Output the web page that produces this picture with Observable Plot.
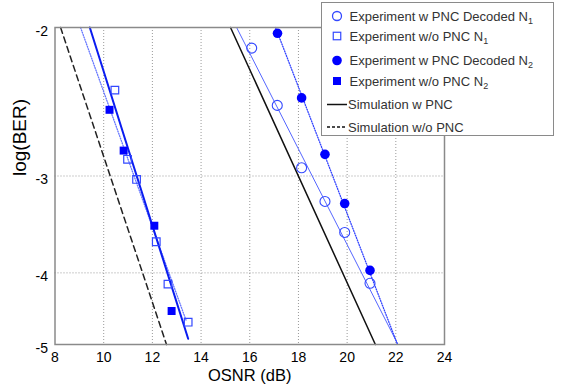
<!DOCTYPE html>
<html>
<head>
<meta charset="utf-8">
<script src="https://cdn.jsdelivr.net/npm/d3@7"></script>
<script src="https://cdn.jsdelivr.net/npm/@observablehq/plot@0.6"></script>
<style>
  body { margin: 0; background: #fff; font-family: "Liberation Sans", Arial, sans-serif; }
  #wrap { position: relative; width: 571px; height: 389px; }
  #legend { position: absolute; left: 321px; top: 2px; width: 233px; height: 134px; background: #fff; border: 1.5px solid #8a8a8a; box-sizing: border-box; }
</style>
</head>
<body>
<div id="wrap"><div id="chart"></div><svg id="legend" width="233" height="134"></svg></div>
<script>
// ---- data (OSNR in dB, log10(BER)) ----
const osnrWoPncN1 = [10.46, 10.98, 11.35, 12.16, 12.64, 13.47];
const berWoPncN1  = [-2.36, -2.86, -3.03, -3.64, -4.14, -4.66];
const osnrWoPncN2 = [10.24, 10.82, 12.08, 12.79];
const berWoPncN2  = [-2.49, -2.79, -3.47, -4.50];
const osnrPncN1 = [16.08, 17.13, 18.13, 19.09, 19.90, 20.94];
const berPncN1  = [-2.11, -2.46, -2.93, -3.23, -3.54, -4.13];
const osnrPncN2 = [17.14, 18.13, 19.09, 19.90, 20.94];
const berPncN2  = [-2.03, -2.41, -2.82, -3.25, -3.97];
// simulation curves and fitted lines (end points)
const simPncX = [15.21, 21.16], simPncY = [-2, -5];
const simWoPncX = [8.23, 12.58], simWoPncY = [-2, -5];
const fitWoN1X = [9.43, 13.47], fitWoN1Y = [-2, -4.91];
const fitWoN2X = [9.05, 13.38], fitWoN2Y = [-2, -4.63];
const fitPncN1X = [15.46, 22.09], fitPncN1Y = [-2, -5];
const fitPncN2X = [17.06, 22.07], fitPncN2Y = [-2, -5];
const xTicks = [8, 10, 12, 14, 16, 18, 20, 22, 24];
const yTicks = [-2, -3, -4, -5];
const yTickLabels = ["-2", "-3", "-4", "-5"];

// ---- BER axis: linear in 20log10(Q) ----
function normInvLow(p) {
  const c=[-7.784894002430293e-03,-3.223964580411365e-01,-2.400758277161838e+00,-2.549671750376168e+00,4.374664141464968e+00,2.938163982698783e+00];
  const d=[7.784695709041462e-03,3.224671290700398e-01,2.445134137142996e+00,3.754408661907416e+00];
  const q=Math.sqrt(-2*Math.log(p));
  return (((((c[0]*q+c[1])*q+c[2])*q+c[3])*q+c[4])*q+c[5])/((((d[0]*q+d[1])*q+d[2])*q+d[3])*q+1);
}
const qdb = lb => 20*Math.log10(-normInvLow(Math.pow(10, lb)));
const yTickPos = yTicks.map(qdb);

const pts = (xs, ys) => xs.map((x, i) => ({x, y: qdb(ys[i])}));
const blue = "#0000ff";

const chart = Plot.plot({
  width: 571, height: 389,
  marginLeft: 54.5, marginRight: 127, marginTop: 27, marginBottom: 45,
  style: {fontFamily: "'Liberation Sans', Arial, sans-serif", fontSize: "14px", color: "#000", background: "#fff"},
  x: {domain: [8, 24]},
  y: {domain: [qdb(-5), qdb(-2)]},
  marks: [
    Plot.ruleX(xTicks.slice(1, -1), {stroke: "#9a9a9a", strokeDasharray: "1,2", strokeWidth: 1}),
    Plot.ruleY(yTickPos.slice(1, -1), {stroke: "#9a9a9a", strokeDasharray: "1,2", strokeWidth: 1}),
    Plot.axisX({ticks: xTicks, tickSize: 0, tickPadding: 8, tickFormat: d => String(d), label: null, fontSize: 14}),
    Plot.axisY({ticks: yTickPos, tickSize: 0, tickPadding: 7, dy: 4, tickFormat: d => yTickLabels[yTickPos.indexOf(d)], label: null, fontSize: 14}),
    Plot.text(["OSNR (dB)"], {frameAnchor: "bottom", dy: 36, fontSize: 16.5, text: d => d}),
    Plot.text(["log(BER)"], {frameAnchor: "left", dx: -35, dy: -10, rotate: -90, fontSize: 19, text: d => d}),
    Plot.line(pts(simWoPncX, simWoPncY), {x: "x", y: "y", stroke: "#222", strokeWidth: 1.5, strokeDasharray: "6,4"}),
    Plot.line(pts(simPncX, simPncY), {x: "x", y: "y", stroke: "#111", strokeWidth: 1.5}),
    Plot.line(pts(fitWoN2X, fitWoN2Y), {x: "x", y: "y", stroke: "#6677ff", strokeWidth: 1.3, strokeDasharray: "1,1.5"}),
    Plot.line(pts(fitWoN1X, fitWoN1Y), {x: "x", y: "y", stroke: "#0a1cf0", strokeWidth: 2}),
    Plot.line(pts(fitPncN1X, fitPncN1Y), {x: "x", y: "y", stroke: "#5566ff", strokeWidth: 1}),
    Plot.line(pts(fitPncN2X, fitPncN2Y), {x: "x", y: "y", stroke: "#3344ff", strokeWidth: 1.3, strokeDasharray: "1,1.5"}),
    Plot.dot(pts(osnrWoPncN1, berWoPncN1), {x: "x", y: "y", symbol: "square", r: 4.3, stroke: "#3348ff", fill: "none", strokeWidth: 1.2}),
    Plot.dot(pts(osnrWoPncN2, berWoPncN2), {x: "x", y: "y", symbol: "square", r: 4.5, fill: blue, stroke: "none"}),
    Plot.dot(pts(osnrPncN1, berPncN1), {x: "x", y: "y", symbol: "circle", r: 5, stroke: "#3348ff", fill: "none", strokeWidth: 1.1}),
    Plot.dot(pts(osnrPncN2, berPncN2), {x: "x", y: "y", symbol: "circle", r: 4.8, fill: blue, stroke: "none"}),
    Plot.frame({stroke: "#8a8a8a", strokeWidth: 1.5})
  ]
});
document.getElementById("chart").appendChild(chart);

// ---- legend ----
const legendItems = [
  {kind: "circle", fill: false, text: "Experiment w PNC Decoded N", sub: "1"},
  {kind: "square", fill: false, text: "Experiment w/o PNC N", sub: "1"},
  {kind: "circle", fill: true, text: "Experiment w PNC Decoded N", sub: "2"},
  {kind: "square", fill: true, text: "Experiment w/o PNC N", sub: "2"},
  {kind: "line", dash: null, text: "Simulation w PNC", sub: ""},
  {kind: "line", dash: "3,2", text: "Simulation w/o PNC", sub: ""}
];
const lg = d3.select("#legend");
const rowY = [13, 33, 57.5, 78, 101.5, 124];
legendItems.forEach((it, i) => {
  const y = rowY[i], mx = 15;
  if (it.kind === "circle") {
    lg.append("circle").attr("cx", mx).attr("cy", y).attr("r", it.fill ? 4.8 : 4.5)
      .attr("fill", it.fill ? blue : "none").attr("stroke", it.fill ? "none" : "#3348ff").attr("stroke-width", 1.3);
  } else if (it.kind === "square") {
    const s = it.fill ? 8 : 7.5;
    lg.append("rect").attr("x", mx - s/2).attr("y", y - s/2).attr("width", s).attr("height", s)
      .attr("fill", it.fill ? blue : "none").attr("stroke", it.fill ? "none" : "#3348ff").attr("stroke-width", 1.2);
  } else {
    lg.append("line").attr("x1", 5).attr("x2", 25).attr("y1", y).attr("y2", y)
      .attr("stroke", "#111").attr("stroke-width", 1.5).attr("stroke-dasharray", it.dash);
  }
  const t = lg.append("text").attr("x", it.kind === "line" ? 26 : 27.5).attr("y", y).attr("dy", "0.35em")
    .attr("font-size", 13).attr("fill", "#333").attr("font-family", "'Liberation Sans', Arial, sans-serif").text(it.text);
  if (it.sub) t.append("tspan").attr("font-size", 9).attr("dy", 3).text(it.sub);
});
</script>
</body>
</html>
